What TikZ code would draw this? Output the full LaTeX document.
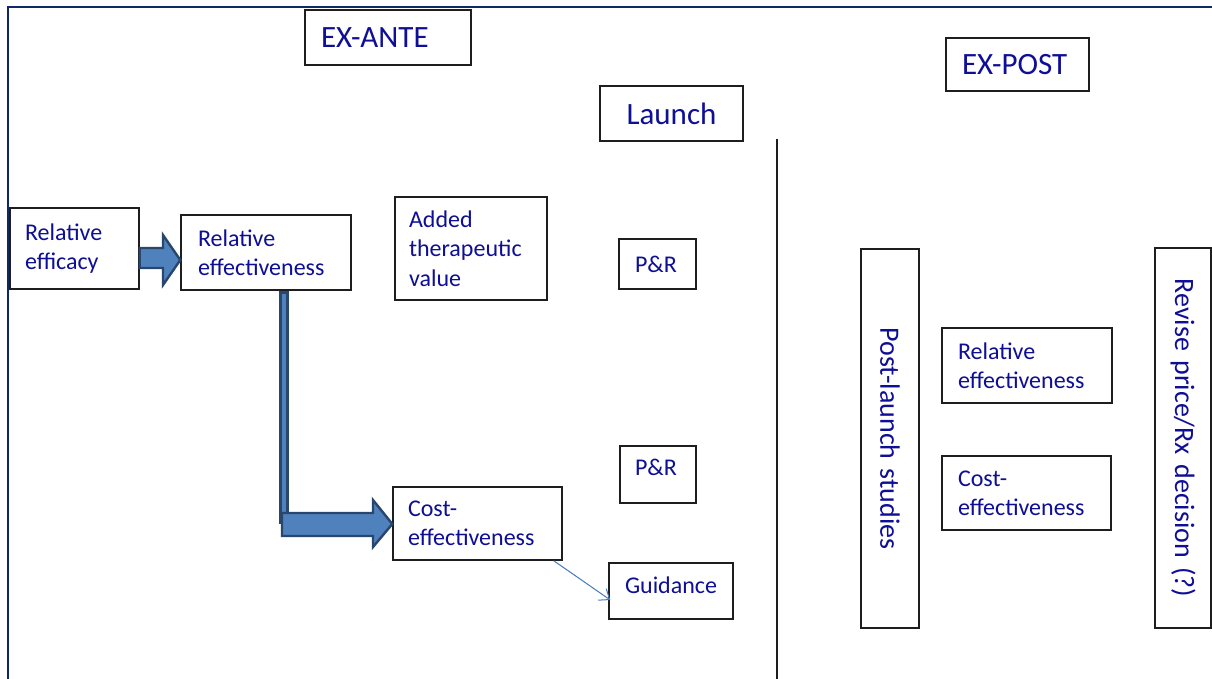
\documentclass[tikz,border=0pt]{standalone}
\usepackage{fontspec}
\setmainfont{Carlito}
\usetikzlibrary{arrows.meta,calc}
\definecolor{txt}{RGB}{14,14,150}
\definecolor{boxc}{RGB}{30,30,30}
\definecolor{framec}{RGB}{16,40,100}
\definecolor{arrfill}{RGB}{79,129,189}
\definecolor{arrdraw}{RGB}{40,70,110}
\definecolor{thinarr}{RGB}{70,120,190}
\newcommand\fsA{\fontsize{24}{29.3}\selectfont}
\newcommand\fsB{\fontsize{31}{37}\selectfont}
\newcommand\fsC{\fontsize{28}{34}\selectfont}
\tikzset{
  box/.style={draw=boxc, line width=1.4pt, fill=white, text=txt, align=left,
    inner ysep=0pt, font=\fsA},
  blockarrow/.style={fill=arrfill, draw=arrdraw, line width=2.4pt, line join=miter},
  frame/.style={draw=framec, line width=2.6pt},
  divider/.style={draw=boxc, line width=1.4pt},
  thin/.style={draw=thinarr, line width=1pt, -{Straight Barb[length=9pt,width=14pt]}}
}
\begin{document}
\begin{tikzpicture}[x=1pt,y=-1pt]
\useasboundingbox (0,0) rectangle (1212,678);
% frame
\draw[frame] (1215,7) -- (8,7) -- (8,681);
% headers
\node[box, font=\fsB, inner xsep=16pt, text width=134pt, minimum height=55pt] (exante) at (388,37.5) {EX-ANTE};
\node[box, font=\fsB, align=center, inner xsep=6pt, text width=131pt, minimum height=55pt] (launch) at (671.5,113.5) {Launch};
\node[box, font=\fsB, inner xsep=16pt, text width=111pt, minimum height=53pt] (expost) at (1017.5,64.5) {EX-POST};
% divider
\coordinate (divtop) at (777,139);
\coordinate (divbot) at (777,680);
\draw[divider] (divtop) -- (divbot);
% ex-ante boxes
\node[box, inner xsep=15pt, text width=99pt, minimum height=81pt] (relefc) at (74.5,248.5) {Relative\\efficacy};
\node[box, inner xsep=17pt, text width=136pt, minimum height=75pt] (relefv) at (266,252.5) {Relative\\effectiveness};
\node[box, inner xsep=14pt, text width=124pt, minimum height=103pt] (atv) at (471,248.5) {Added\\therapeutic\\value};
\node[box, inner xsep=16pt, text width=45pt, minimum height=50pt] (pr1) at (657.5,264) {P\&R};
\node[box, inner xsep=15pt, text width=46pt, minimum height=57pt, text depth=14pt] (pr2) at (658,474.5) {P\&R};
\node[box, inner xsep=15pt, text width=139pt, minimum height=73pt] (ce) at (477.5,523.5) {Cost-\\effectiveness};
\node[box, inner xsep=16pt, text width=92pt, minimum height=56pt, text depth=12pt] (guid) at (671,591) {Guidance};
% ex-post boxes
\node[box, font=\fsC, align=center, rotate=-90, inner xsep=4pt, text width=371pt, minimum height=58pt] (pls) at (890,438.5) {Post-launch studies};
\node[box, font=\fsC, align=center, rotate=-90, inner xsep=4pt, text width=372pt, minimum height=56pt] (rev) at (1183,438) {Revise price/Rx decision (?)};
\node[box, inner xsep=16pt, text width=138pt, minimum height=75pt] (rre) at (1027,365.5) {Relative\\effectiveness};
\node[box, inner xsep=16pt, text width=137pt, minimum height=74pt] (rce) at (1026.5,493) {Cost-\\effectiveness};
% block arrow: relative efficacy -> relative effectiveness
\draw[blockarrow] (relefc.east |- 0,248) -- (163,248) -- (163,235) -- (relefv.west |- 0,260)
  -- (163,285) -- (163,268) -- (relefc.east |- 0,268) -- cycle;
% L-shaped arrow: relative effectiveness -> cost-effectiveness
\draw[fill=arrfill, draw=arrdraw, line width=2.8pt] ($(relefv.south)+(14.5,1.5)$) rectangle (287.5,523);
\draw[blockarrow] (282,513) -- (373,513) -- (373,500) -- (ce.west |- 0,524)
  -- (373,547) -- (373,536) -- (282,536) -- cycle;
% thin arrow: cost-effectiveness -> guidance
\draw[thin] ($(ce.south east)+(-9,0)$) -- ($(guid.west)+(2,9)$);
\end{tikzpicture}
\end{document}
